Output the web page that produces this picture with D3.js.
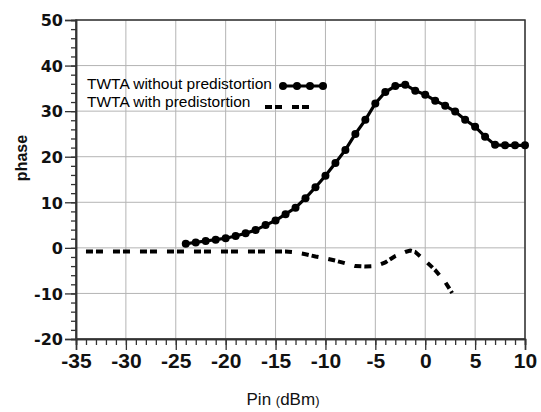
<!DOCTYPE html>
<html><head><meta charset="utf-8">
<script src="https://cdn.jsdelivr.net/npm/d3@7"></script>
<style>body{margin:0;background:#fff}</style>
</head><body>
<svg id="c" width="541" height="412"></svg>
<script>
// ---- data ----
const xTicks = [-35,-30,-25,-20,-15,-10,-5,0,5,10];
const yTicks = [-20,-10,0,10,20,30,40,50];
const pinWithout = [-24,-23,-22,-21,-20,-19,-18,-17,-16,-15,-14,-13,-12,-11,-10,-9,-8,-7,-6,-5,-4,-3,-2,-1,0,1,2,3,4,5,6,7,8,9,10];
const phaseWithout = [0.9,1.2,1.5,1.8,2.1,2.6,3.2,3.9,5.0,6.0,7.4,8.8,10.9,13.3,15.8,18.6,21.5,25.0,28.1,31.7,34.2,35.5,35.8,34.5,33.6,32.3,31.2,29.9,28.1,26.6,24.4,22.6,22.5,22.5,22.5];
const pinWith = [-34,-33,-32,-31,-30,-29,-28,-27,-26,-25,-24,-23,-22,-21,-20,-19,-18,-17,-16,-15,-14,-13,-12,-11,-10,-9,-8,-7,-6,-5,-4,-3,-2,-1.5,-1,0,1,2,2.7];
const phaseWith = [-0.8,-0.8,-0.8,-0.8,-0.8,-0.8,-0.8,-0.8,-0.8,-0.8,-0.8,-0.8,-0.8,-0.8,-0.8,-0.8,-0.8,-0.8,-0.8,-0.8,-0.8,-1.0,-1.4,-1.9,-2.3,-2.8,-3.4,-4.0,-4.1,-4.0,-3.2,-1.8,-0.9,-0.6,-0.9,-2.8,-4.9,-7.5,-9.9];
const seriesNames = ["TWTA without predistortion","TWTA with predistortion"];
const xTitle = "Pin";
const xUnit = "dBm";
const yTitle = "phase";

// ---- layout ----
const svg = d3.select("#c");
const L = 76, R = 525, T = 20, B = 339;
const x = d3.scaleLinear().domain([-35,10]).range([L,R]);
const y = d3.scaleLinear().domain([-20,50]).range([B,T]);

svg.append("rect").attr("width",541).attr("height",412).attr("fill","#fff");

// grid
const g = svg.append("g");
g.selectAll(".vg").data(xTicks).join("line")
  .attr("x1",d=>x(d)).attr("x2",d=>x(d)).attr("y1",T).attr("y2",B)
  .attr("stroke","#b4b4b4").attr("stroke-width",1);
g.selectAll(".hg").data(yTicks).join("line")
  .attr("x1",L).attr("x2",R).attr("y1",d=>y(d)).attr("y2",d=>y(d))
  .attr("stroke","#b4b4b4").attr("stroke-width",1);

// frame
svg.append("rect").attr("x",L).attr("y",T).attr("width",R-L).attr("height",B-T)
  .attr("fill","none").attr("stroke","#333").attr("stroke-width",1.5);

// series
const d1 = pinWithout.map((p,i)=>[p,phaseWithout[i]]);
const d2 = pinWith.map((p,i)=>[p,phaseWith[i]]);
const line = d3.line().x(d=>x(d[0])).y(d=>y(d[1]));

svg.append("path").datum(d2).attr("d",line).attr("fill","none")
  .attr("stroke","#000").attr("stroke-width",4).attr("stroke-dasharray","7,3,7,10");

svg.append("path").datum(d1).attr("d",line).attr("fill","none")
  .attr("stroke","#000").attr("stroke-width",3.2);
svg.selectAll(".m1").data(d1).join("circle")
  .attr("cx",d=>x(d[0])).attr("cy",d=>y(d[1])).attr("r",4).attr("fill","#000");

// legend
const lg = svg.append("g").attr("font-family","Arial, 'Liberation Sans', sans-serif")
  .attr("font-size","15.5px").attr("fill","#000");
lg.append("text").attr("x",87).attr("y",89).text(seriesNames[0]);
lg.append("text").attr("x",87).attr("y",107).text(seriesNames[1]);
const lx = [283,297,310,323];
lg.append("line").attr("x1",283).attr("x2",323).attr("y1",86).attr("y2",86)
  .attr("stroke","#000").attr("stroke-width",3.2);
lg.selectAll(".lm").data(lx).join("circle").attr("cx",d=>d).attr("cy",86).attr("r",4).attr("fill","#000");
lg.append("line").attr("x1",265).attr("x2",312).attr("y1",107).attr("y2",107)
  .attr("stroke","#000").attr("stroke-width",4).attr("stroke-dasharray","7,3,7,10");

// axes
const xa = svg.append("g").attr("transform",`translate(0,${B})`);
xa.call(d3.axisBottom(x).tickValues(d3.range(-35,11,1)).tickSize(6).tickFormat(""));
xa.append("g").call(d3.axisBottom(x).tickValues(xTicks).tickSize(11).tickFormat(d=>String(d)));
xa.selectAll(".domain").attr("stroke","#333").attr("stroke-width",1.5);
xa.selectAll(".tick line").attr("stroke","#333").attr("stroke-width",1.3);
xa.selectAll("text").attr("y",29).attr("dy",0).attr("fill","#111")
  .attr("font-family","Arial, 'Liberation Sans', sans-serif").attr("font-weight","bold").attr("font-size","21px");

const ya = svg.append("g").attr("transform",`translate(${L},0)`);
ya.call(d3.axisLeft(y).tickValues(d3.range(-20,51,2)).tickSize(5).tickFormat(""));
ya.append("g").call(d3.axisLeft(y).tickValues(yTicks).tickSize(11).tickFormat(d=>String(d)));
ya.selectAll(".domain").attr("stroke","#333").attr("stroke-width",1.5);
ya.selectAll(".tick line").attr("stroke","#333").attr("stroke-width",1.3);
ya.selectAll("text").attr("x",-13).attr("dy","0.36em").attr("fill","#111")
  .attr("font-family","'DejaVu Sans', sans-serif").attr("font-weight","bold").attr("font-size","16px");

// titles
const xt = svg.append("text").attr("x",283).attr("y",405).attr("text-anchor","middle")
  .attr("font-family","Arial, 'Liberation Sans', sans-serif").attr("font-size","17px").attr("fill","#111");
xt.append("tspan").text(xTitle + " ");
xt.append("tspan").attr("font-size","13px").text("(");
xt.append("tspan").text(xUnit);
xt.append("tspan").attr("font-size","13px").text(")");

svg.append("text").attr("transform","translate(27,158) rotate(-90)").attr("text-anchor","middle")
  .attr("font-family","Arial, 'Liberation Sans', sans-serif").attr("font-weight","bold")
  .attr("font-size","16px").attr("fill","#111").text(yTitle);
</script>
</body></html>
